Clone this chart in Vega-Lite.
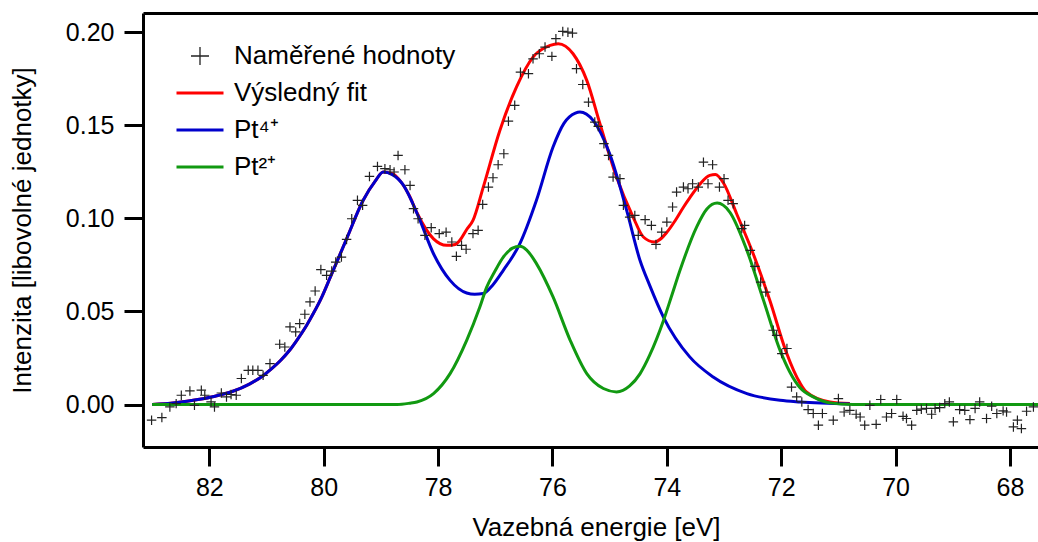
{
  "$schema": "https://vega.github.io/schema/vega-lite/v6.json",
  "width": 895,
  "height": 434,
  "autosize": {"type": "none"},
  "padding": {"left": 143, "top": 13, "right": 0, "bottom": 95},
  "background": "white",
  "config": {
    "view": {"stroke": null},
    "font": "Liberation Sans",
    "axis": {
      "domainColor": "#000000", "domainWidth": 3, "tickColor": "#000000", "tickWidth": 3, "tickSize": 19,
      "labelFont": "Liberation Sans", "labelFontSize": 25, "labelColor": "#000000", "labelPadding": 9,
      "titleFont": "Liberation Sans", "titleFontSize": 26, "titleFontWeight": "normal", "titleColor": "#000000",
      "grid": false
    }
  },
  "datasets": {
    "curves": [
      {"E": 83.00, "I": 0.0000, "series": "Výsledný fit"},
      {"E": 82.60, "I": 0.0010, "series": "Výsledný fit"},
      {"E": 82.20, "I": 0.0027, "series": "Výsledný fit"},
      {"E": 81.90, "I": 0.0045, "series": "Výsledný fit"},
      {"E": 81.60, "I": 0.0070, "series": "Výsledný fit"},
      {"E": 81.30, "I": 0.0110, "series": "Výsledný fit"},
      {"E": 81.06, "I": 0.0155, "series": "Výsledný fit"},
      {"E": 80.90, "I": 0.0195, "series": "Výsledný fit"},
      {"E": 80.76, "I": 0.0235, "series": "Výsledný fit"},
      {"E": 80.60, "I": 0.0290, "series": "Výsledný fit"},
      {"E": 80.47, "I": 0.0345, "series": "Výsledný fit"},
      {"E": 80.30, "I": 0.0425, "series": "Výsledný fit"},
      {"E": 80.18, "I": 0.0490, "series": "Výsledný fit"},
      {"E": 80.03, "I": 0.0580, "series": "Výsledný fit"},
      {"E": 79.89, "I": 0.0680, "series": "Výsledný fit"},
      {"E": 79.60, "I": 0.0890, "series": "Výsledný fit"},
      {"E": 79.31, "I": 0.1097, "series": "Výsledný fit"},
      {"E": 79.10, "I": 0.1200, "series": "Výsledný fit"},
      {"E": 78.96, "I": 0.1249, "series": "Výsledný fit"},
      {"E": 78.80, "I": 0.1240, "series": "Výsledný fit"},
      {"E": 78.67, "I": 0.1204, "series": "Výsledný fit"},
      {"E": 78.50, "I": 0.1120, "series": "Výsledný fit"},
      {"E": 78.37, "I": 0.1030, "series": "Výsledný fit"},
      {"E": 78.08, "I": 0.0890, "series": "Výsledný fit"},
      {"E": 77.85, "I": 0.0855, "series": "Výsledný fit"},
      {"E": 77.70, "I": 0.0860, "series": "Výsledný fit"},
      {"E": 77.62, "I": 0.0882, "series": "Výsledný fit"},
      {"E": 77.50, "I": 0.0940, "series": "Výsledný fit"},
      {"E": 77.39, "I": 0.0989, "series": "Výsledný fit"},
      {"E": 77.21, "I": 0.1168, "series": "Výsledný fit"},
      {"E": 76.92, "I": 0.1472, "series": "Výsledný fit"},
      {"E": 76.63, "I": 0.1705, "series": "Výsledný fit"},
      {"E": 76.34, "I": 0.1866, "series": "Výsledný fit"},
      {"E": 76.04, "I": 0.1929, "series": "Výsledný fit"},
      {"E": 75.90, "I": 0.1938, "series": "Výsledný fit"},
      {"E": 75.64, "I": 0.1884, "series": "Výsledný fit"},
      {"E": 75.40, "I": 0.1741, "series": "Výsledný fit"},
      {"E": 75.17, "I": 0.1508, "series": "Výsledný fit"},
      {"E": 74.88, "I": 0.1222, "series": "Výsledný fit"},
      {"E": 74.59, "I": 0.1007, "series": "Výsledný fit"},
      {"E": 74.41, "I": 0.0900, "series": "Výsledný fit"},
      {"E": 74.22, "I": 0.0873, "series": "Výsledný fit"},
      {"E": 74.00, "I": 0.0925, "series": "Výsledný fit"},
      {"E": 73.85, "I": 0.0990, "series": "Výsledný fit"},
      {"E": 73.71, "I": 0.1060, "series": "Výsledný fit"},
      {"E": 73.60, "I": 0.1110, "series": "Výsledný fit"},
      {"E": 73.42, "I": 0.1185, "series": "Výsledný fit"},
      {"E": 73.25, "I": 0.1231, "series": "Výsledný fit"},
      {"E": 73.15, "I": 0.1235, "series": "Výsledný fit"},
      {"E": 73.01, "I": 0.1190, "series": "Výsledný fit"},
      {"E": 72.78, "I": 0.1025, "series": "Výsledný fit"},
      {"E": 72.49, "I": 0.0810, "series": "Výsledný fit"},
      {"E": 72.20, "I": 0.0560, "series": "Výsledný fit"},
      {"E": 71.91, "I": 0.0280, "series": "Výsledný fit"},
      {"E": 71.67, "I": 0.0115, "series": "Výsledný fit"},
      {"E": 71.56, "I": 0.0068, "series": "Výsledný fit"},
      {"E": 71.15, "I": 0.0014, "series": "Výsledný fit"},
      {"E": 70.80, "I": 0.0005, "series": "Výsledný fit"},
      {"E": 83.00, "I": 0.0000, "series": "Pt⁴⁺"},
      {"E": 82.60, "I": 0.0010, "series": "Pt⁴⁺"},
      {"E": 82.20, "I": 0.0027, "series": "Pt⁴⁺"},
      {"E": 81.90, "I": 0.0045, "series": "Pt⁴⁺"},
      {"E": 81.60, "I": 0.0070, "series": "Pt⁴⁺"},
      {"E": 81.30, "I": 0.0110, "series": "Pt⁴⁺"},
      {"E": 81.06, "I": 0.0155, "series": "Pt⁴⁺"},
      {"E": 80.90, "I": 0.0195, "series": "Pt⁴⁺"},
      {"E": 80.76, "I": 0.0235, "series": "Pt⁴⁺"},
      {"E": 80.60, "I": 0.0290, "series": "Pt⁴⁺"},
      {"E": 80.47, "I": 0.0345, "series": "Pt⁴⁺"},
      {"E": 80.30, "I": 0.0425, "series": "Pt⁴⁺"},
      {"E": 80.18, "I": 0.0490, "series": "Pt⁴⁺"},
      {"E": 80.03, "I": 0.0580, "series": "Pt⁴⁺"},
      {"E": 79.89, "I": 0.0680, "series": "Pt⁴⁺"},
      {"E": 79.60, "I": 0.0890, "series": "Pt⁴⁺"},
      {"E": 79.31, "I": 0.1097, "series": "Pt⁴⁺"},
      {"E": 79.10, "I": 0.1200, "series": "Pt⁴⁺"},
      {"E": 78.96, "I": 0.1249, "series": "Pt⁴⁺"},
      {"E": 78.80, "I": 0.1235, "series": "Pt⁴⁺"},
      {"E": 78.61, "I": 0.1180, "series": "Pt⁴⁺"},
      {"E": 78.34, "I": 0.1007, "series": "Pt⁴⁺"},
      {"E": 78.08, "I": 0.0810, "series": "Pt⁴⁺"},
      {"E": 77.79, "I": 0.0667, "series": "Pt⁴⁺"},
      {"E": 77.50, "I": 0.0599, "series": "Pt⁴⁺"},
      {"E": 77.36, "I": 0.0592, "series": "Pt⁴⁺"},
      {"E": 77.21, "I": 0.0596, "series": "Pt⁴⁺"},
      {"E": 77.05, "I": 0.0640, "series": "Pt⁴⁺"},
      {"E": 76.86, "I": 0.0721, "series": "Pt⁴⁺"},
      {"E": 76.57, "I": 0.0864, "series": "Pt⁴⁺"},
      {"E": 76.28, "I": 0.1097, "series": "Pt⁴⁺"},
      {"E": 75.99, "I": 0.1383, "series": "Pt⁴⁺"},
      {"E": 75.80, "I": 0.1510, "series": "Pt⁴⁺"},
      {"E": 75.60, "I": 0.1565, "series": "Pt⁴⁺"},
      {"E": 75.52, "I": 0.1571, "series": "Pt⁴⁺"},
      {"E": 75.29, "I": 0.1526, "series": "Pt⁴⁺"},
      {"E": 75.00, "I": 0.1347, "series": "Pt⁴⁺"},
      {"E": 74.70, "I": 0.1040, "series": "Pt⁴⁺"},
      {"E": 74.47, "I": 0.0775, "series": "Pt⁴⁺"},
      {"E": 74.30, "I": 0.0640, "series": "Pt⁴⁺"},
      {"E": 74.06, "I": 0.0470, "series": "Pt⁴⁺"},
      {"E": 73.60, "I": 0.0256, "series": "Pt⁴⁺"},
      {"E": 73.19, "I": 0.0148, "series": "Pt⁴⁺"},
      {"E": 72.60, "I": 0.0059, "series": "Pt⁴⁺"},
      {"E": 72.02, "I": 0.0023, "series": "Pt⁴⁺"},
      {"E": 71.67, "I": 0.0014, "series": "Pt⁴⁺"},
      {"E": 70.80, "I": 0.0003, "series": "Pt⁴⁺"},
      {"E": 83.00, "I": 0.0000, "series": "Pt²⁺"},
      {"E": 78.72, "I": 0.0000, "series": "Pt²⁺"},
      {"E": 78.50, "I": 0.0007, "series": "Pt²⁺"},
      {"E": 78.37, "I": 0.0014, "series": "Pt²⁺"},
      {"E": 78.08, "I": 0.0059, "series": "Pt²⁺"},
      {"E": 77.79, "I": 0.0166, "series": "Pt²⁺"},
      {"E": 77.50, "I": 0.0345, "series": "Pt²⁺"},
      {"E": 77.27, "I": 0.0524, "series": "Pt²⁺"},
      {"E": 77.15, "I": 0.0631, "series": "Pt²⁺"},
      {"E": 77.00, "I": 0.0720, "series": "Pt²⁺"},
      {"E": 76.86, "I": 0.0792, "series": "Pt²⁺"},
      {"E": 76.70, "I": 0.0840, "series": "Pt²⁺"},
      {"E": 76.57, "I": 0.0850, "series": "Pt²⁺"},
      {"E": 76.45, "I": 0.0830, "series": "Pt²⁺"},
      {"E": 76.28, "I": 0.0757, "series": "Pt²⁺"},
      {"E": 75.99, "I": 0.0578, "series": "Pt²⁺"},
      {"E": 75.69, "I": 0.0345, "series": "Pt²⁺"},
      {"E": 75.40, "I": 0.0166, "series": "Pt²⁺"},
      {"E": 75.11, "I": 0.0086, "series": "Pt²⁺"},
      {"E": 74.88, "I": 0.0068, "series": "Pt²⁺"},
      {"E": 74.65, "I": 0.0100, "series": "Pt²⁺"},
      {"E": 74.47, "I": 0.0165, "series": "Pt²⁺"},
      {"E": 74.30, "I": 0.0265, "series": "Pt²⁺"},
      {"E": 74.06, "I": 0.0450, "series": "Pt²⁺"},
      {"E": 73.92, "I": 0.0580, "series": "Pt²⁺"},
      {"E": 73.77, "I": 0.0721, "series": "Pt²⁺"},
      {"E": 73.48, "I": 0.0953, "series": "Pt²⁺"},
      {"E": 73.30, "I": 0.1050, "series": "Pt²⁺"},
      {"E": 73.12, "I": 0.1082, "series": "Pt²⁺"},
      {"E": 72.90, "I": 0.1034, "series": "Pt²⁺"},
      {"E": 72.60, "I": 0.0828, "series": "Pt²⁺"},
      {"E": 72.31, "I": 0.0560, "series": "Pt²⁺"},
      {"E": 72.02, "I": 0.0291, "series": "Pt²⁺"},
      {"E": 71.85, "I": 0.0175, "series": "Pt²⁺"},
      {"E": 71.67, "I": 0.0090, "series": "Pt²⁺"},
      {"E": 71.44, "I": 0.0041, "series": "Pt²⁺"},
      {"E": 71.15, "I": 0.0009, "series": "Pt²⁺"},
      {"E": 70.74, "I": 0.0000, "series": "Pt²⁺"},
      {"E": 67.51, "I": 0.0000, "series": "Pt²⁺"}
    ],
    "points": [
      {"E": 83.01, "I": -0.0084}, {"E": 82.83, "I": -0.0070}, {"E": 82.69, "I": -0.0013}, {"E": 82.58, "I": 0.0005},
      {"E": 82.49, "I": 0.0050}, {"E": 82.34, "I": 0.0073}, {"E": 82.26, "I": -0.0004}, {"E": 82.14, "I": 0.0077},
      {"E": 82.08, "I": 0.0050}, {"E": 81.97, "I": 0.0014}, {"E": 81.91, "I": -0.0013}, {"E": 81.79, "I": 0.0062},
      {"E": 81.70, "I": 0.0041}, {"E": 81.62, "I": 0.0054}, {"E": 81.53, "I": 0.0050}, {"E": 81.44, "I": 0.0140},
      {"E": 81.32, "I": 0.0184}, {"E": 81.24, "I": 0.0184}, {"E": 81.15, "I": 0.0184}, {"E": 81.06, "I": 0.0157},
      {"E": 80.94, "I": 0.0220}, {"E": 80.77, "I": 0.0324}, {"E": 80.68, "I": 0.0309}, {"E": 80.59, "I": 0.0417},
      {"E": 80.49, "I": 0.0390}, {"E": 80.42, "I": 0.0435}, {"E": 80.33, "I": 0.0485}, {"E": 80.24, "I": 0.0551},
      {"E": 80.15, "I": 0.0610}, {"E": 80.05, "I": 0.0725}, {"E": 79.95, "I": 0.0694}, {"E": 79.86, "I": 0.0717},
      {"E": 79.79, "I": 0.0765}, {"E": 79.69, "I": 0.0792}, {"E": 79.60, "I": 0.0887}, {"E": 79.51, "I": 0.0998},
      {"E": 79.41, "I": 0.1097}, {"E": 79.32, "I": 0.1070}, {"E": 79.20, "I": 0.1225}, {"E": 79.06, "I": 0.1279},
      {"E": 78.93, "I": 0.1267}, {"E": 78.84, "I": 0.1261}, {"E": 78.77, "I": 0.1249}, {"E": 78.70, "I": 0.1338},
      {"E": 78.58, "I": 0.1261}, {"E": 78.49, "I": 0.1177}, {"E": 78.43, "I": 0.1052}, {"E": 78.35, "I": 0.0998},
      {"E": 78.23, "I": 0.0909}, {"E": 78.12, "I": 0.0950}, {"E": 77.98, "I": 0.0918}, {"E": 77.86, "I": 0.0926},
      {"E": 77.76, "I": 0.0873}, {"E": 77.68, "I": 0.0796}, {"E": 77.59, "I": 0.0855}, {"E": 77.51, "I": 0.0834},
      {"E": 77.39, "I": 0.0918}, {"E": 77.30, "I": 0.0936}, {"E": 77.22, "I": 0.1075}, {"E": 77.12, "I": 0.1168},
      {"E": 77.04, "I": 0.1218}, {"E": 76.95, "I": 0.1288}, {"E": 76.85, "I": 0.1347}, {"E": 76.77, "I": 0.1522},
      {"E": 76.66, "I": 0.1607}, {"E": 76.56, "I": 0.1785}, {"E": 76.42, "I": 0.1777}, {"E": 76.34, "I": 0.1857},
      {"E": 76.23, "I": 0.1884}, {"E": 76.13, "I": 0.1920}, {"E": 76.01, "I": 0.1870}, {"E": 75.94, "I": 0.1965},
      {"E": 75.82, "I": 0.2004}, {"E": 75.73, "I": 0.2000}, {"E": 75.65, "I": 0.1995}, {"E": 75.58, "I": 0.1804},
      {"E": 75.47, "I": 0.1719}, {"E": 75.37, "I": 0.1624}, {"E": 75.26, "I": 0.1517}, {"E": 75.20, "I": 0.1494},
      {"E": 75.10, "I": 0.1401}, {"E": 75.02, "I": 0.1338}, {"E": 74.94, "I": 0.1222}, {"E": 74.82, "I": 0.1213},
      {"E": 74.76, "I": 0.1070}, {"E": 74.65, "I": 0.1007}, {"E": 74.56, "I": 0.1016}, {"E": 74.50, "I": 0.0909},
      {"E": 74.38, "I": 0.0993}, {"E": 74.27, "I": 0.0962}, {"E": 74.19, "I": 0.0860}, {"E": 74.09, "I": 0.0926},
      {"E": 74.00, "I": 0.0980}, {"E": 73.90, "I": 0.1061}, {"E": 73.83, "I": 0.1141}, {"E": 73.71, "I": 0.1168},
      {"E": 73.63, "I": 0.1159}, {"E": 73.55, "I": 0.1186}, {"E": 73.45, "I": 0.1168}, {"E": 73.36, "I": 0.1302},
      {"E": 73.28, "I": 0.1186}, {"E": 73.20, "I": 0.1288}, {"E": 73.08, "I": 0.1168}, {"E": 73.00, "I": 0.1213},
      {"E": 72.93, "I": 0.1097}, {"E": 72.84, "I": 0.1079}, {"E": 72.69, "I": 0.0945}, {"E": 72.64, "I": 0.0962},
      {"E": 72.54, "I": 0.0828}, {"E": 72.46, "I": 0.0742}, {"E": 72.36, "I": 0.0658}, {"E": 72.27, "I": 0.0604},
      {"E": 72.14, "I": 0.0399}, {"E": 72.08, "I": 0.0372}, {"E": 71.99, "I": 0.0274}, {"E": 71.90, "I": 0.0301},
      {"E": 71.82, "I": 0.0094}, {"E": 71.73, "I": 0.0041}, {"E": 71.64, "I": 0.0014}, {"E": 71.53, "I": -0.0027},
      {"E": 71.44, "I": -0.0048}, {"E": 71.35, "I": -0.0111}, {"E": 71.28, "I": -0.0048}, {"E": 71.09, "I": -0.0084},
      {"E": 71.00, "I": 0.0032}, {"E": 70.90, "I": -0.0040}, {"E": 70.80, "I": -0.0031}, {"E": 70.69, "I": -0.0052},
      {"E": 70.62, "I": -0.0067}, {"E": 70.54, "I": -0.0111}, {"E": 70.45, "I": -0.0004}, {"E": 70.34, "I": -0.0106},
      {"E": 70.26, "I": 0.0027}, {"E": 70.16, "I": -0.0067}, {"E": 70.07, "I": -0.0048}, {"E": 69.98, "I": 0.0027},
      {"E": 69.87, "I": -0.0063}, {"E": 69.81, "I": -0.0075}, {"E": 69.72, "I": -0.0111}, {"E": 69.63, "I": -0.0031},
      {"E": 69.55, "I": -0.0025}, {"E": 69.46, "I": -0.0021}, {"E": 69.37, "I": -0.0052}, {"E": 69.31, "I": -0.0021},
      {"E": 69.23, "I": -0.0016}, {"E": 69.14, "I": 0.0005}, {"E": 69.06, "I": 0.0014}, {"E": 68.99, "I": -0.0093},
      {"E": 68.88, "I": -0.0027}, {"E": 68.79, "I": -0.0031}, {"E": 68.70, "I": -0.0081}, {"E": 68.61, "I": -0.0021},
      {"E": 68.53, "I": 0.0014}, {"E": 68.41, "I": -0.0075}, {"E": 68.32, "I": -0.0009}, {"E": 68.23, "I": -0.0048},
      {"E": 68.12, "I": -0.0034}, {"E": 68.06, "I": -0.0040}, {"E": 67.94, "I": -0.0120}, {"E": 67.87, "I": -0.0084},
      {"E": 67.80, "I": -0.0129}, {"E": 67.71, "I": -0.0036}, {"E": 67.59, "I": -0.0013}
    ]
  },
  "encoding": {
    "y": {
      "field": "I", "type": "quantitative",
      "scale": {"domain": [-0.0228, 0.2103], "nice": false, "zero": false},
      "axis": {"values": [0, 0.05, 0.1, 0.15, 0.2], "format": ".2f", "title": "Intenzita [libovolné jednotky]", "labelPadding": 10, "titlePadding": 30}
    }
  },
  "layer": [
    {
      "data": {"name": "curves"},
      "mark": {"type": "line", "interpolate": "monotone", "strokeWidth": 3},
      "encoding": {
        "x": {
          "field": "E", "type": "quantitative",
          "scale": {"domain": [67.51, 83.16], "reverse": true, "nice": false, "zero": false},
          "axis": {"orient": "bottom", "values": [82, 80, 78, 76, 74, 72, 70, 68], "title": "Vazebná energie [eV]", "titlePadding": 14, "titleX": 453}
        },
        "color": {
          "field": "series", "type": "nominal",
          "scale": {"domain": ["Naměřené hodnoty", "Výsledný fit", "Pt⁴⁺", "Pt²⁺"], "range": ["#222222", "#ff0000", "#0000cc", "#119911"]},
          "legend": {
            "title": null, "orient": "none", "legendX": 44, "legendY": 30, "symbolType": "stroke", "symbolSize": 2209, "symbolStrokeWidth": 3,
            "labelFontSize": 26, "labelFont": "Liberation Sans", "labelColor": "#000000", "labelOffset": 21, "labelLimit": 0, "rowPadding": 11, "padding": 0,
            "encode": {"symbols": {"update": {
              "shape": {"signal": "datum.value === 'Naměřené hodnoty' ? 'M-1,0H1M0,-1V1' : 'stroke'"},
              "size": {"signal": "datum.value === 'Naměřené hodnoty' ? 324 : 2209"},
              "strokeWidth": {"signal": "datum.value === 'Naměřené hodnoty' ? 1.3 : 3"}
            }}}
          }
        }
      }
    },
    {
      "data": {"name": "points"},
      "mark": {"type": "point", "shape": "M-1,0H1M0,-1V1", "size": 90, "filled": false, "strokeWidth": 1.2, "opacity": 1},
      "encoding": {
        "x": {
          "field": "E", "type": "quantitative",
          "axis": {"orient": "top", "labels": false, "ticks": false, "title": null, "domain": true}
        },
        "color": {"datum": "Naměřené hodnoty", "type": "nominal"}
      }
    }
  ],
  "resolve": {"axis": {"x": "independent"}}
}
